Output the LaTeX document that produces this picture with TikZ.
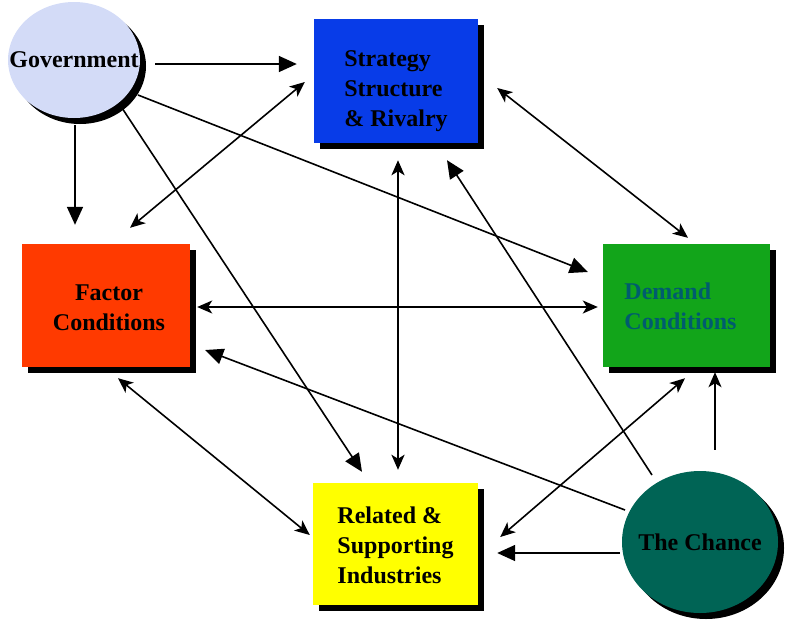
\documentclass[tikz,border=0pt]{standalone}
\usepackage{fontspec}
\setmainfont{Liberation Serif}
\usetikzlibrary{arrows.meta,shadows,shapes.geometric}

\definecolor{govfill}{RGB}{211,219,247}
\definecolor{stratfill}{RGB}{8,60,232}
\definecolor{factfill}{RGB}{255,58,0}
\definecolor{demfill}{RGB}{18,165,26}
\definecolor{demtext}{RGB}{0,92,110}
\definecolor{relfill}{RGB}{255,255,0}
\definecolor{chancefill}{RGB}{0,100,85}

\tikzset{
  lbl/.style={font=\fontsize{24}{30}\selectfont\bfseries, text=black, inner sep=0pt},
  shade6/.style={drop shadow={shadow xshift=6pt, shadow yshift=-6pt, opacity=1, fill=black}},
  factorbox/.style={shade6, rectangle, inner sep=0pt, minimum width=#1},
  blob/.style={shade6, ellipse, inner sep=0pt},
  link/.style={line width=1.6pt, draw=black},
  push/.style={link, -{Triangle[length=18pt, width=16pt]}},
  pull/.style={link, {Stealth[length=15pt, width=13pt, inset=4pt]}-{Stealth[length=15pt, width=13pt, inset=4pt]}},
  lift/.style={link, -{Stealth[length=15pt, width=13pt, inset=4pt]}}
}

\begin{document}
\begin{tikzpicture}[x=1pt, y=-1pt]
\useasboundingbox (0,0) rectangle (785,619);

% the five forces and the two outside influences
\node[blob, fill=govfill, minimum width=132pt, minimum height=116pt,
      label={[lbl]center:Government}] (gov) at (74,60) {};
\node[factorbox=164pt, fill=stratfill, minimum height=124pt,
      label={[lbl, align=left, yshift=-10pt]center:Strategy\\Structure\\\& Rivalry}] (strat) at (396,81) {};
\node[factorbox=168pt, fill=factfill, minimum height=123pt,
      label={[lbl, align=center, xshift=3pt, yshift=-2pt]center:Factor\\Conditions}] (fact) at (106,305.5) {};
\node[factorbox=167pt, fill=demfill, minimum height=123pt,
      label={[lbl, align=left, text=demtext, xshift=-6pt, yshift=-1pt]center:Demand\\Conditions}] (dem) at (686.5,305.5) {};
\node[factorbox=165pt, fill=relfill, minimum height=122pt,
      label={[lbl, align=left, yshift=-1pt]center:Related \&\\Supporting\\Industries}] (rel) at (395.5,544) {};
\node[blob, fill=chancefill, minimum width=156pt, minimum height=142pt,
      label={[lbl]center:The Chance}] (chance) at (700,542) {};

% influence of government
\draw[push] ([shift={(15,4)}]gov.east) -- ([shift={(-17,-17)}]strat.west);
\draw[push] ([shift={(1,7)}]gov.south) -- ([shift={(-31,-19)}]fact.north);
\draw[push] ([shift={(64,35)}]gov.center) -- ([shift={(-15,-33.5)}]dem.west);
\draw[push] ([shift={(48,48)}]gov.center) -- ([shift={(-33.5,-11)}]rel.north);

% mutual links of the diamond
\draw[pull] ([shift={(24,-16)}]fact.north) -- ([shift={(-9,1)}]strat.west);
\draw[pull] ([shift={(19,7)}]strat.east) -- ([shift={(1.5,-6)}]dem.north);
\draw[pull, line width=2.6pt] ([shift={(2,17)}]strat.south) -- ([shift={(2.5,-13)}]rel.north);
\draw[pull] ([shift={(7,1.5)}]fact.east) -- ([shift={(-5,1.5)}]dem.west);
\draw[pull] ([shift={(12,11)}]fact.south) -- ([shift={(-3,-9)}]rel.west);
\draw[pull] ([shift={(-1.5,11)}]dem.south) -- ([shift={(22,-7)}]rel.east);

% influence of chance
\draw[push] ([shift={(-48,-67)}]chance.center) -- ([shift={(51,17)}]strat.south);
\draw[push] ([shift={(-75,-32)}]chance.center) -- ([shift={(15,44.5)}]fact.east);
\draw[push] ([shift={(-2,11)}]chance.west) -- ([shift={(19,9)}]rel.east);
\draw[lift] ([shift={(15,-21)}]chance.north) -- ([shift={(28.5,5)}]dem.south);
\end{tikzpicture}
\end{document}
